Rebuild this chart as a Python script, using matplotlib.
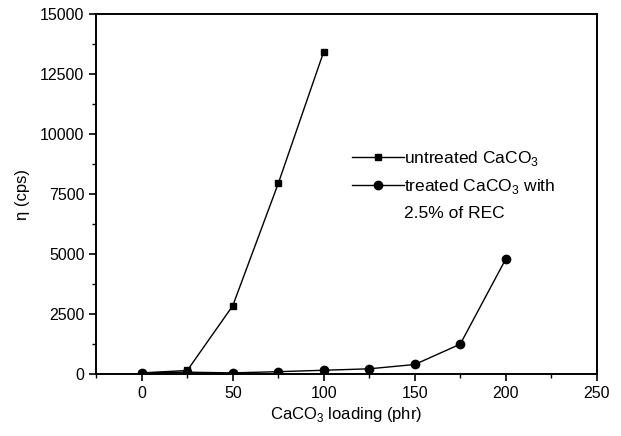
import matplotlib
matplotlib.use('Agg')
import matplotlib.pyplot as plt
from matplotlib.ticker import MultipleLocator
from matplotlib.lines import Line2D

plt.rcParams['font.family'] = ['Liberation Sans', 'DejaVu Sans']
plt.rcParams['mathtext.fontset'] = 'custom'
plt.rcParams['mathtext.rm'] = 'Liberation Sans'

# data
loading_untreated = [0, 25, 50, 75, 100]
eta_untreated = [50, 150, 2850, 7950, 13450]

loading_treated = [0, 25, 50, 75, 100, 125, 150, 175, 200]
eta_treated = [50, 80, 50, 100, 160, 220, 400, 1250, 4800]

fig = plt.figure(figsize=(6.21, 4.36), dpi=100)
ax = fig.add_axes([0.155, 0.142, 0.806, 0.825])

l1, = ax.plot(loading_untreated, eta_untreated, color='black', lw=1, marker='s', ms=5)
l2, = ax.plot(loading_treated, eta_treated, color='black', lw=1, marker='o', ms=6)

ax.set_xlim(-25, 250)
ax.set_ylim(0, 15000)
ax.xaxis.set_major_locator(MultipleLocator(50))
ax.xaxis.set_minor_locator(MultipleLocator(25))
ax.yaxis.set_major_locator(MultipleLocator(2500))
ax.yaxis.set_minor_locator(MultipleLocator(1250))
ax.tick_params(which='major', direction='out', length=5, width=1.2, labelsize=11.5)
ax.tick_params(which='minor', direction='out', length=3, width=1)
for s in ax.spines.values():
    s.set_linewidth(1.4)

ax.set_xlabel('CaCO$_3$ loading (phr)', fontsize=12, labelpad=3)
ax.set_ylabel('η (cps)', fontsize=12, labelpad=7)

# second line of the treated label has no handle of its own
blank = Line2D([], [], linestyle='none')
ax.legend([l1, l2, blank],
          ['untreated CaCO$_3$', 'treated CaCO$_3$ with', '2.5% of REC'],
          loc='upper left', bbox_to_anchor=(0.479, 0.67), frameon=False, fontsize=12.5,
          handlelength=3.0, handletextpad=0.0, labelspacing=0.55)

fig.savefig('out.png', dpi=100)
